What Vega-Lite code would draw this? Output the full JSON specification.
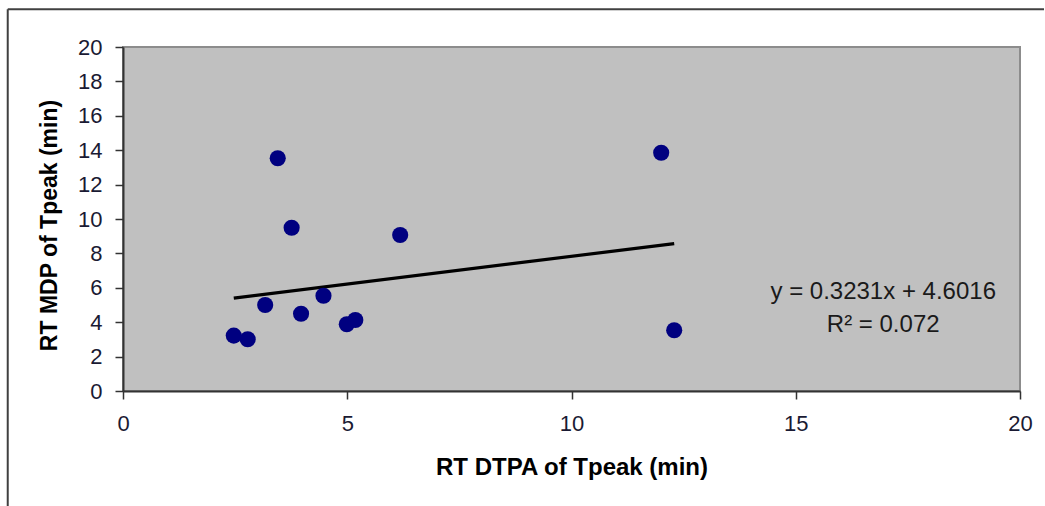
{
  "$schema": "https://vega.github.io/schema/vega-lite/v6.json",
  "autosize": "none",
  "padding": {"left": 123, "top": 47, "right": 24, "bottom": 115},
  "width": 897,
  "height": 344,
  "background": "white",
  "config": {
    "font": "Liberation Sans",
    "view": {"fill": "#C0C0C0", "stroke": "#8c8c8c", "strokeWidth": 2}
  },
  "datasets": {
    "points": [
      {"dtpa": 3.45, "mdp": 13.53},
      {"dtpa": 3.76, "mdp": 9.49},
      {"dtpa": 6.18, "mdp": 9.07},
      {"dtpa": 3.17, "mdp": 5.0},
      {"dtpa": 3.97, "mdp": 4.49},
      {"dtpa": 4.47, "mdp": 5.54},
      {"dtpa": 4.99, "mdp": 3.88},
      {"dtpa": 5.18, "mdp": 4.13},
      {"dtpa": 2.47, "mdp": 3.22},
      {"dtpa": 2.78, "mdp": 3.01},
      {"dtpa": 12.0, "mdp": 13.85},
      {"dtpa": 12.29, "mdp": 3.53}
    ],
    "trend": [
      {"dtpa": 2.47, "mdp": 5.40},
      {"dtpa": 12.29, "mdp": 8.57}
    ],
    "labels": [
      {"dtpa": 16.95, "mdp": 5.76, "text": "y = 0.3231x  + 4.6016"},
      {"dtpa": 16.95, "mdp": 3.82, "text": "R² = 0.072"}
    ]
  },
  "encoding": {
    "x": {
      "field": "dtpa", "type": "quantitative",
      "scale": {"domain": [0, 20], "nice": false},
      "axis": {
        "title": "RT DTPA of Tpeak (min)",
        "values": [0, 5, 10, 15, 20],
        "grid": false,
        "labelFlush": false, "labelOverlap": false, "labelBound": false,
        "domainColor": "#333333", "domainWidth": 2,
        "tickColor": "#333333", "tickSize": 8, "tickWidth": 1.5,
        "labelFontSize": 22, "labelColor": "#1a1a33", "labelPadding": 14,
        "titleFontSize": 24, "titleFontWeight": "bold", "titleColor": "#000000",
        "titleBaseline": "middle", "titleY": 76
      }
    },
    "y": {
      "field": "mdp", "type": "quantitative",
      "scale": {"domain": [0, 20], "nice": false},
      "axis": {
        "title": "RT MDP of Tpeak (min)",
        "values": [0, 2, 4, 6, 8, 10, 12, 14, 16, 18, 20],
        "grid": false,
        "labelFlush": false, "labelOverlap": false, "labelBound": false,
        "domainColor": "#333333", "domainWidth": 2,
        "tickColor": "#333333", "tickSize": 8, "tickWidth": 1.5,
        "labelFontSize": 22, "labelColor": "#1a1a33", "labelPadding": 13,
        "titleFontSize": 23, "titleFontWeight": "bold", "titleColor": "#000000",
        "titleAngle": 270, "titleBaseline": "middle", "titleX": -74, "titleY": 178
      }
    }
  },
  "layer": [
    {
      "data": {"name": "trend"},
      "mark": {"type": "line", "color": "#000000", "strokeWidth": 3.2}
    },
    {
      "data": {"name": "points"},
      "mark": {"type": "point", "shape": "circle", "filled": true, "size": 260, "color": "#000080", "opacity": 1}
    },
    {
      "data": {"name": "labels"},
      "mark": {"type": "text", "fontSize": 24, "color": "#1a1a1a", "align": "center", "baseline": "middle"},
      "encoding": {
        "text": {"field": "text"}
      }
    },
    {
      "data": {"values": [{"fx": -2.57, "fx2": 20.6, "fy": 22.2}]},
      "mark": {"type": "rule", "color": "#404040", "strokeWidth": 2, "clip": false},
      "encoding": {
        "x": {"field": "fx", "type": "quantitative"},
        "x2": {"field": "fx2"},
        "y": {"field": "fy", "type": "quantitative"}
      }
    },
    {
      "data": {"values": [{"fx": -2.57, "fy": 22.2, "fy2": -7}]},
      "mark": {"type": "rule", "color": "#404040", "strokeWidth": 2, "clip": false},
      "encoding": {
        "x": {"field": "fx", "type": "quantitative"},
        "y": {"field": "fy", "type": "quantitative"},
        "y2": {"field": "fy2"}
      }
    }
  ]
}
